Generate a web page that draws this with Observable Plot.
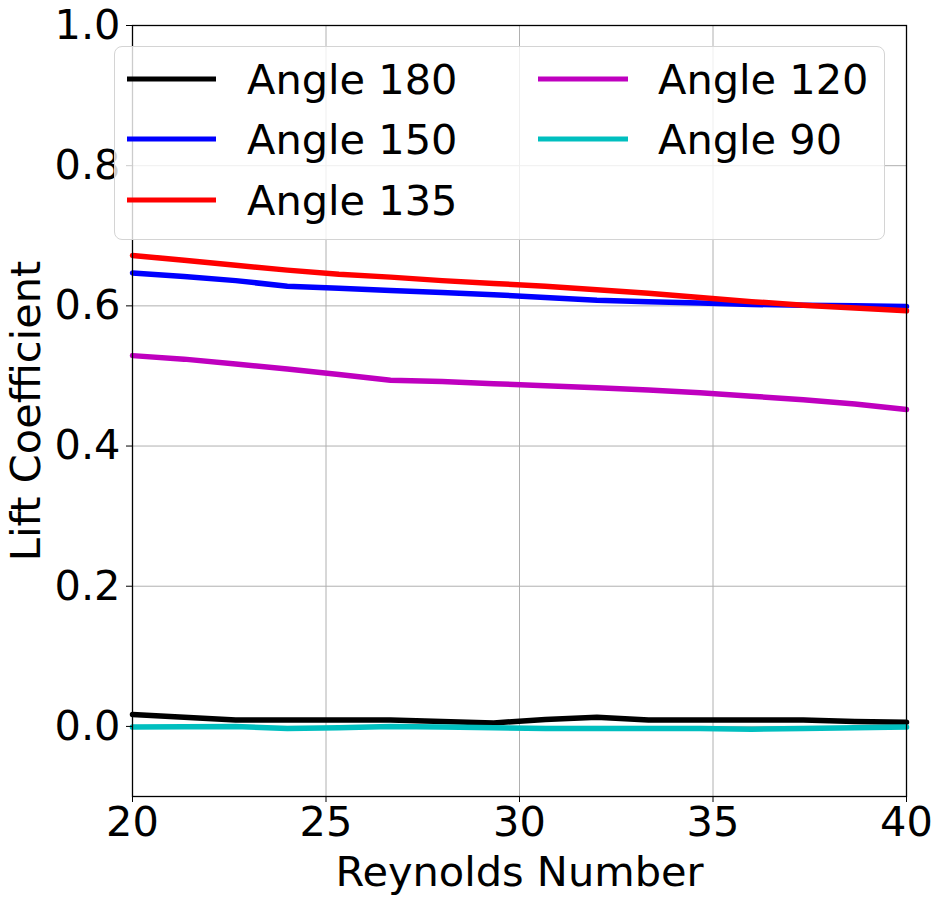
<!DOCTYPE html>
<html>
<head>
<meta charset="utf-8">
<script src="https://cdn.jsdelivr.net/npm/d3@7"></script>
<script src="https://cdn.jsdelivr.net/npm/@observablehq/plot@0.6"></script>
<style>
  body { margin: 0; background: #fff; }
  #wrap { position: relative; width: 943px; height: 900px; font-family: "DejaVu Sans", sans-serif; }
  #legend { position: absolute; left: 114px; top: 46px; width: 771px; height: 194px;
    border: 1.5px solid #d4d4d4; border-radius: 8px; background: rgba(255,255,255,0.8); box-sizing: border-box; }
</style>
</head>
<body>
<div id="wrap"></div>
<script>
const reynolds = [20, 21.333, 22.667, 24, 25.333, 26.667, 28, 29.333, 30.667, 32, 33.333, 34.667, 36, 37.333, 38.667, 40];
const angle180 = [0.017, 0.013, 0.009, 0.009, 0.009, 0.009, 0.007, 0.005, 0.010, 0.013, 0.009, 0.009, 0.009, 0.009, 0.007, 0.006];
const angle150 = [0.647, 0.642, 0.636, 0.628, 0.625, 0.622, 0.619, 0.616, 0.612, 0.608, 0.606, 0.604, 0.602, 0.601, 0.600, 0.599];
const angle135 = [0.672, 0.665, 0.658, 0.651, 0.645, 0.641, 0.636, 0.632, 0.628, 0.623, 0.618, 0.612, 0.606, 0.601, 0.597, 0.593];
const angle120 = [0.529, 0.524, 0.517, 0.510, 0.502, 0.494, 0.492, 0.489, 0.486, 0.483, 0.480, 0.476, 0.471, 0.466, 0.460, 0.452];
const angle90  = [-0.001, -0.0005, 0.0, -0.003, -0.002, 0.0, -0.001, -0.002, -0.003, -0.003, -0.003, -0.003, -0.004, -0.003, -0.002, -0.001];
const seriesNames = ["Angle 180", "Angle 150", "Angle 135", "Angle 120", "Angle 90"];
const seriesColors = ["#000000", "#0000ff", "#ff0000", "#bf00bf", "#00bfbf"];
const xTicks = [20, 25, 30, 35, 40];
const yTicks = [0, 0.2, 0.4, 0.6, 0.8, 1.0];

const allSeries = [angle180, angle150, angle135, angle120, angle90];
const data = [];
allSeries.forEach((vals, i) => vals.forEach((v, j) => data.push({series: seriesNames[i], re: reynolds[j], cl: v})));

const FS = 41.5;
const chart = Plot.plot({
  width: 943,
  height: 900,
  marginLeft: 132,
  marginRight: 37,
  marginTop: 25,
  marginBottom: 104,
  style: { fontFamily: "DejaVu Sans, sans-serif", fontSize: FS + "px", color: "black", background: "white" },
  x: { domain: [20, 40] },
  y: { domain: [-0.1, 1.0] },
  color: { domain: seriesNames, range: seriesColors },
  marks: [
    Plot.gridX(xTicks, { stroke: "#b0b0b0", strokeOpacity: 1, strokeWidth: 1 }),
    Plot.gridY(yTicks, { stroke: "#b0b0b0", strokeOpacity: 1, strokeWidth: 1 }),
    Plot.lineY(data, { x: "re", y: "cl", z: "series", stroke: "series", strokeWidth: 5.5, strokeLinejoin: "round" }),
    Plot.frame({ stroke: "black", strokeWidth: 1.3 }),
    Plot.axisX({ ticks: xTicks, tickSize: 6, tickPadding: 4, fontSize: FS, tickFormat: d3.format("d"),
      label: "Reynolds Number", labelAnchor: "center", labelArrow: "none", labelOffset: 89 }),
    Plot.axisY({ ticks: yTicks, tickSize: 6, tickPadding: 6, fontSize: FS, tickFormat: d3.format(".1f"),
      label: "Lift Coefficient", labelAnchor: "center", labelArrow: "none", labelOffset: 122 })
  ]
});

const wrap = document.getElementById("wrap");
wrap.appendChild(chart);

// legend
const legend = document.createElement("div");
legend.id = "legend";
const ns = "http://www.w3.org/2000/svg";
const lsvg = document.createElementNS(ns, "svg");
lsvg.setAttribute("width", 771);
lsvg.setAttribute("height", 194);
lsvg.style.position = "absolute";
lsvg.style.left = "-1.5px";
lsvg.style.top = "-1.5px";
lsvg.style.overflow = "visible";
const ox = 114, oy = 46;
const rowsY = [79, 139, 200];
const colLineX = [[127, 216], [538, 628]];
const colTextX = [247, 658];
seriesNames.forEach((name, i) => {
  const col = i < 3 ? 0 : 1;
  const row = i < 3 ? i : i - 3;
  const y = rowsY[row] - oy;
  const ln = document.createElementNS(ns, "line");
  ln.setAttribute("x1", colLineX[col][0] - ox);
  ln.setAttribute("x2", colLineX[col][1] - ox);
  ln.setAttribute("y1", y);
  ln.setAttribute("y2", y);
  ln.setAttribute("stroke", seriesColors[i]);
  ln.setAttribute("stroke-width", 5);
  lsvg.appendChild(ln);
  const t = document.createElementNS(ns, "text");
  t.setAttribute("x", colTextX[col] - ox);
  t.setAttribute("y", y);
  t.setAttribute("dy", "0.35em");
  t.setAttribute("font-size", FS);
  t.setAttribute("font-family", "DejaVu Sans, sans-serif");
  t.textContent = name;
  lsvg.appendChild(t);
});
legend.appendChild(lsvg);
wrap.appendChild(legend);
</script>
</body>
</html>
